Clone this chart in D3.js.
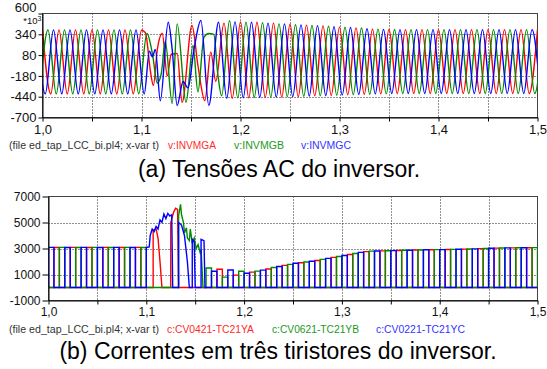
<!DOCTYPE html>
<html>
<head>
<meta charset="utf-8">
<script src="https://cdn.jsdelivr.net/npm/d3@7"></script>
<style>
  body { margin: 0; background: #fff; }
  text { font-family: "Liberation Sans", Arial, sans-serif; }
</style>
</head>
<body>
<svg id="fig" width="547" height="369"></svg>
<script>
// ---------- data ----------
const xGrid = [1.0, 1.05, 1.1, 1.15, 1.2, 1.25, 1.3, 1.35, 1.4, 1.45, 1.5];
const xLabels = { "1": "1,0", "1.1": "1,1", "1.2": "1,2", "1.3": "1,3", "1.4": "1,4", "1.5": "1,5" };
const vTicks = [600, 340, 80, -180, -440, -700];
const iTicks = [7000, 5000, 3000, 1000, -1000];

// voltage extrema (kV) every half cycle of 60 Hz, starting at the given ms after t = 1,0 s
const HALF = 1000 / 120;
const vaStart = 0, vbStart = -2.778, vcStart = -5.556;
const vaExt = [395,-405,395,-405,395,-405,395,-405,395,-405,395,-405,390,
  null,null,null,null,null,null,null,null,null,
  480,-460,495,-455,490,-450,480,-445,465,-440,455,-430,445,-425,430,-415,420,-410,405,-405,
  400,-400,398,-400,398,-400,398,-400,398,-400,398,-400,398,-400,398,-400,398,-400,398];
const vbExt = [-405,395,-405,395,-405,395,-405,395,-405,395,-405,395,-405,
  null,null,null,null,null,null,null,null,null,null,
  510,-455,490,-450,485,-445,470,-440,460,-435,450,-428,440,-422,428,-415,418,-410,405,-405,
  400,-400,398,-400,398,-400,398,-400,398,-400,398,-400,398,-400,398,-400,398,-400,398];
const vcExt = [395,-405,395,-405,395,-405,395,-405,395,-405,395,-405,395,-405,
  null,null,null,null,null,null,null,null,null,
  -460,495,-455,490,-450,480,-445,470,-440,458,-432,448,-425,435,-418,425,-412,410,-405,402,
  -400,398,-400,398,-400,398,-400,398,-400,398,-400,398,-400,398,-400,398,-400,398,-400];
// disturbed part [ms, kV]
const vaFault = [[104,360],[109,-120],[112,-300],[116,150],[121,350],[126,-180],[130,90],[136,100],
  [141,-510],[151,450],[157,-50],[164,-490],[170,120],[175,-250]];
const vbFault = [[105.5,350],[111,100],[116,-270],[120,-150],[124,250],[131,-525],[136,470],[145,-510],
  [152,200],[157,-380],[163,300],[168,350],[173,340],[177,-150],[181,-430]];
const vcFault = [[108,130],[111,60],[114,150],[119,-490],[127,490],[131,150],[136,-550],[142,-250],
  [147,-330],[153,150],[160,512],[168,-550],[177.8,490]];

// thyristor currents (A): one conduction slot of 1/180 s each, valves C, A, B in turn
const SLOT = 1000 / 180;
const slotLevel = [3090,3080,3085,3075,3090,3080,3085,3080,3090,3075,3085,3080,3090,3080,3085,3075,3090,3080,
  null,null,null,null,null,null,null,null,null,null,null,
  1500,1250,1400,800,1350,950,1250,
  1100,1180,1260,1340,1420,1540,1620,1700,1780,1860,
  1900,1960,2020,2080,2160,2240,2320,2390,2460,2540,
  2620,2700,2760,2800,2810,2820,2830,2840,2850,2860,
  2870,2880,2890,2900,2905,2910,2915,2920,2930,2940,
  2950,2960,2975,2990,3005,3020,3030,3040,3045,3050,
  3055,3060,3060,3065];
const iaFault = [[100,0],[107,0],[107,4400],[110,4500],[112,3800],[114,2000],[116,0],[125,0],[125,5000],
  [128,5800],[130,6100],[132,6000],[133,0],[161.1,0]];
const ibFault = [[100,0],[133,0],[133,5500],[135,6400],[136,5600],[138,5000],[139,4200],[141,4600],[142,3800],
  [144,3600],[145,4500],[147,3400],[149,3800],[151,3000],[153,3300],[155,2700],[156,2900],[158,0],[161.1,0]];
const icFault = [[100,0],[100,3080],[103,3120],[104,4000],[106,4500],[108,4300],[110,4700],[112,4500],
  [114,5200],[116,5000],[118,5650],[120,5300],[122,5700],[124,5500],[126,5600],[127,0],[133,0],
  [133,5000],[136,4800],[139,4000],[142,2000],[144,0],[147,0],[147,3700],[149,3500],[150,0],
  [156,0],[156,3700],[159,3600],[160,0],[161.1,0]];

const colors = ["#ff0000", "#008a00", "#0000ff"];
const legendColors = ["#ff2a2a", "#229922", "#3333ff"];

// ---------- build ----------
function voltPoints(start, ext, fault) {
  const pts = [];
  ext.forEach((v, k) => { if (v !== null) pts.push([start + k * HALF, v]); });
  fault.forEach(p => pts.push(p));
  return pts.sort((a, b) => a[0] - b[0]);
}

function currentPoints(valve, fault) {
  const pts = [[0, 0]];
  let faultDone = false;
  slotLevel.forEach((L, i) => {
    if (L === null) {
      if (!faultDone) { fault.forEach(p => pts.push(p)); faultDone = true; }
      return;
    }
    if ((i + 2) % 3 !== valve) return;
    const t0 = i * SLOT, t1 = (i + 1) * SLOT;
    pts.push([t0, 0], [t0, L], [t1, L], [t1, 0]);
  });
  pts.push([500, 0]);
  return pts;
}

const svg = d3.select("#fig");

function panel(opts) {
  const { x, y, yTicks, id } = opts;
  const g = svg.append("g");
  const [x0, x1] = x.range();
  const [y1, y0] = y.range();

  g.append("clipPath").attr("id", id).append("rect")
    .attr("x", x0).attr("y", y0).attr("width", x1 - x0).attr("height", y1 - y0);

  // grid
  g.append("g").selectAll("line").data(xGrid.slice(1, -1)).join("line")
    .attr("x1", d => Math.round(x(d)) + 0.5).attr("x2", d => Math.round(x(d)) + 0.5)
    .attr("y1", y0).attr("y2", y1)
    .attr("stroke", "#222").attr("stroke-dasharray", "1,2");
  g.append("g").selectAll("line").data(yTicks.slice(1, -1)).join("line")
    .attr("x1", x0).attr("x2", x1)
    .attr("y1", d => Math.round(y(d)) + 0.5).attr("y2", d => Math.round(y(d)) + 0.5)
    .attr("stroke", "#222").attr("stroke-dasharray", "1,2");

  // frame
  g.append("rect").attr("x", x0).attr("y", y0).attr("width", x1 - x0).attr("height", y1 - y0)
    .attr("fill", "none").attr("stroke", "#444");

  const plot = g.append("g").attr("clip-path", `url(#${id})`);

  // axes
  const ax = g.append("g").attr("transform", `translate(0,${y1})`)
    .call(d3.axisBottom(x).tickValues(xGrid).tickSize(4).tickSizeOuter(0).tickPadding(3)
      .tickFormat(d => xLabels[String(+d.toFixed(2))] || ""));
  const ay = g.append("g").attr("transform", `translate(${x0},0)`)
    .call(d3.axisLeft(y).tickValues(yTicks).tickSize(opts.tickLen).tickSizeOuter(0).tickPadding(2)
      .tickFormat(d => String(d)));
  [ax, ay].forEach(a => {
    a.selectAll("path,line").attr("stroke", "#000");
    a.selectAll("text").attr("fill", "#111").style("font-size", opts.fontSize + "px");
  });
  // the top label sits a little above its tick
  ay.selectAll(".tick text").filter(d => d === yTicks[0]).attr("y", -opts.topLift);
  return plot;
}

// ---------- top panel : voltages ----------
const xTop = d3.scaleLinear().domain([1.0, 1.5]).range([42.5, 537.5]);
const yTop = d3.scaleLinear().domain([-700, 600]).range([117.5, 13.5]);
const plotTop = panel({ x: xTop, y: yTop, yTicks: vTicks, id: "clipTop", tickLen: 4, fontSize: 13, topLift: 6 });

const vLine = d3.line().x(d => xTop(1 + d[0] / 1000)).y(d => yTop(d[1])).curve(d3.curveMonotoneX);
const vSeries = [voltPoints(vaStart, vaExt, vaFault), voltPoints(vbStart, vbExt, vbFault), voltPoints(vcStart, vcExt, vcFault)];
plotTop.selectAll("path.v").data(vSeries).join("path")
  .attr("class", "v").attr("d", vLine).attr("fill", "none")
  .attr("stroke", (d, i) => colors[i]).attr("stroke-width", 1.4);

svg.append("text").attr("x", 41.5).attr("y", 24).attr("text-anchor", "end")
  .style("font-size", "9.5px").attr("fill", "#111")
  .text("*10").append("tspan").attr("dy", -3).style("font-size", "7px").text("3");

// ---------- bottom panel : currents ----------
const xBot = d3.scaleLinear().domain([1.0, 1.5]).range([48.5, 537.5]);
const yBot = d3.scaleLinear().domain([-1000, 7000]).range([300.5, 196.5]);
const plotBot = panel({ x: xBot, y: yBot, yTicks: iTicks, id: "clipBot", tickLen: 6, fontSize: 12, topLift: 0 });

const iLine = d3.line().x(d => xBot(1 + d[0] / 1000)).y(d => yBot(d[1]));
const iSeries = [currentPoints(0, iaFault), currentPoints(1, ibFault), currentPoints(2, icFault)];
plotBot.selectAll("path.i").data(iSeries).join("path")
  .attr("class", "i").attr("d", iLine).attr("fill", "none")
  .attr("stroke", (d, i) => colors[i]).attr("stroke-width", 1.4);

// ---------- legends and captions ----------
function legend(y, names, spots) {
  svg.append("text").attr("x", 9).attr("y", y).attr("fill", "#333")
    .attr("textLength", 150).attr("lengthAdjust", "spacingAndGlyphs")
    .style("font-size", "10px").text("(file ed_tap_LCC_bi.pl4; x-var t)");
  names.forEach((n, i) => {
    svg.append("text").attr("x", spots[i][0]).attr("y", y).attr("fill", legendColors[i])
      .attr("textLength", spots[i][1]).attr("lengthAdjust", "spacingAndGlyphs")
      .style("font-size", "10px").text(n);
  });
}
legend(148.5, ["v:INVMGA", "v:INVMGB", "v:INVMGC"], [[168, 48], [234, 50], [301, 50]]);
legend(333, ["c:CV0421-TC21YA", "c:CV0621-TC21YB", "c:CV0221-TC21YC"], [[167, 87], [272, 87], [376, 89]]);

svg.append("text").attr("x", 279).attr("y", 177).attr("text-anchor", "middle")
  .style("font-size", "23px").attr("fill", "#000").text("(a) Tensões AC do inversor.");
svg.append("text").attr("x", 278).attr("y", 359).attr("text-anchor", "middle")
  .style("font-size", "23px").attr("fill", "#000").text("(b) Correntes em três tiristores do inversor.");
</script>
</body>
</html>
